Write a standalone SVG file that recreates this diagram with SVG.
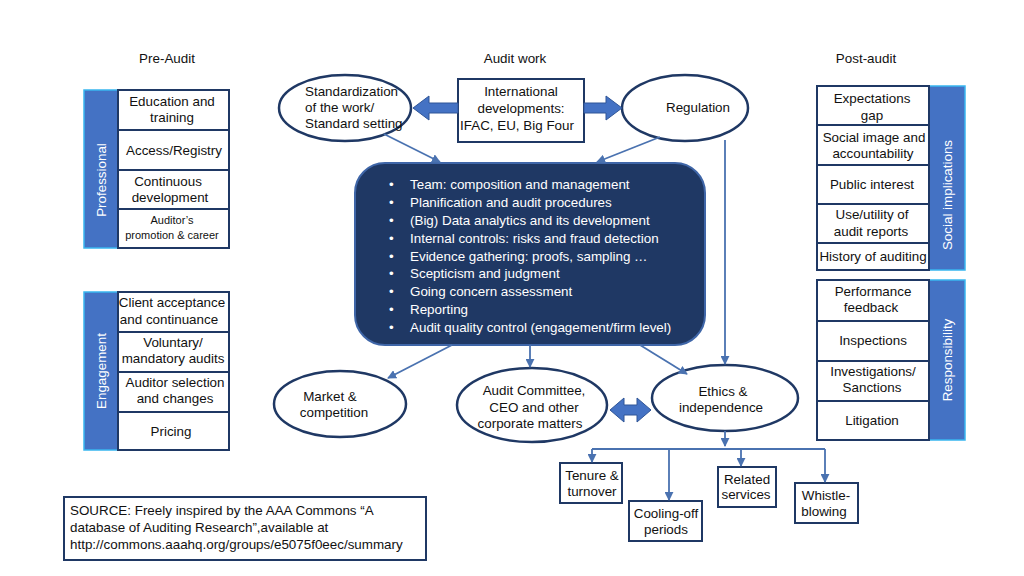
<svg xmlns="http://www.w3.org/2000/svg" width="1024" height="576" viewBox="0 0 1024 576">
<defs>
<style>
text{font-family:"Liberation Sans",Arial,sans-serif;font-size:13.4px;fill:#111;}
.c{text-anchor:middle;}
.bx{fill:#fff;stroke:#1F3864;stroke-width:2;}
.bar{fill:#4472C4;stroke:#38B6F0;stroke-width:1.5;}
.bt{fill:#fff;font-size:13.4px;text-anchor:middle;}
.ov{fill:#fff;stroke:#1F3864;stroke-width:2.5;}
.ln{fill:none;stroke:#4A72B0;stroke-width:1.8;}
.wt{fill:#fff;}
</style>
<marker id="ah" viewBox="0 0 10 10" refX="9" refY="5" markerWidth="5" markerHeight="5" orient="auto">
<path d="M0,0L10,5L0,10z" fill="#4A72B0"/>
</marker>
</defs>
<rect width="1024" height="576" fill="#fff"/>

<g id="headers">
<text class="c" x="167" y="63">Pre-Audit</text>
<text class="c" x="515" y="63">Audit work</text>
<text class="c" x="866" y="63">Post-audit</text>
</g>

<g id="professional">
<rect class="bar" x="84" y="90" width="34" height="158"/>
<text class="bt" transform="translate(106,180) rotate(-90)">Professional</text>
<rect class="bx" x="118" y="90" width="111" height="40"/>
<text class="c" x="172" y="106">Education and</text>
<text class="c" x="172" y="122">training</text>
<rect class="bx" x="118" y="130" width="111" height="40"/>
<text class="c" x="174" y="155">Access/Registry</text>
<rect class="bx" x="118" y="170" width="111" height="39"/>
<text class="c" x="168" y="186">Continuous</text>
<text class="c" x="170" y="202">development</text>
<rect class="bx" x="118" y="209" width="111" height="39"/>
<text class="c" x="172" y="224" style="font-size:11px">Auditor’s</text>
<text class="c" x="172" y="239" style="font-size:11px">promotion &amp; career</text>
</g>

<g id="engagement">
<rect class="bar" x="84" y="292" width="34" height="158"/>
<text class="bt" transform="translate(106,371) rotate(-90)">Engagement</text>
<rect class="bx" x="118" y="292" width="111" height="40"/>
<text class="c" x="172" y="307">Client acceptance</text>
<text class="c" x="169" y="324">and continuance</text>
<rect class="bx" x="118" y="332" width="111" height="40"/>
<text class="c" x="173" y="347">Voluntary/</text>
<text class="c" x="173" y="363">mandatory audits</text>
<rect class="bx" x="118" y="372" width="111" height="40"/>
<text class="c" x="175" y="387">Auditor selection</text>
<text class="c" x="175" y="403">and changes</text>
<rect class="bx" x="118" y="412" width="111" height="38"/>
<text class="c" x="171" y="436">Pricing</text>
</g>

<g id="social">
<rect class="bar" x="929" y="86" width="36" height="184"/>
<text class="bt" transform="translate(952,195) rotate(-90)">Social implications</text>
<rect class="bx" x="817" y="86" width="112" height="39"/>
<text class="c" x="872" y="103">Expectations</text>
<text class="c" x="872" y="120">gap</text>
<rect class="bx" x="817" y="125" width="112" height="40"/>
<text class="c" x="874" y="142">Social image and</text>
<text class="c" x="873" y="158">accountability</text>
<rect class="bx" x="817" y="165" width="112" height="39"/>
<text class="c" x="872" y="189">Public interest</text>
<rect class="bx" x="817" y="204" width="112" height="39"/>
<text class="c" x="872" y="219">Use/utility of</text>
<text class="c" x="871" y="236">audit reports</text>
<rect class="bx" x="817" y="243" width="112" height="27"/>
<text class="c" x="873" y="261">History of auditing</text>
</g>

<g id="responsibility">
<rect class="bar" x="929" y="280" width="36" height="160"/>
<text class="bt" transform="translate(952,360) rotate(-90)">Responsibility</text>
<rect class="bx" x="817" y="280" width="112" height="41"/>
<text class="c" x="873" y="296">Performance</text>
<text class="c" x="871" y="312">feedback</text>
<rect class="bx" x="817" y="321" width="112" height="40"/>
<text class="c" x="873" y="345">Inspections</text>
<rect class="bx" x="817" y="361" width="112" height="40"/>
<text class="c" x="873" y="376">Investigations/</text>
<text class="c" x="872" y="392">Sanctions</text>
<rect class="bx" x="817" y="401" width="112" height="39"/>
<text class="c" x="872" y="425">Litigation</text>
</g>

<g id="standardization">
<ellipse class="ov" cx="345" cy="108" rx="66" ry="33"/>
<text x="305" y="96">Standardization</text>
<text x="305" y="112">of the work/</text>
<text x="305" y="128">Standard setting</text>
</g>

<g id="international">
<rect class="bx" x="458" y="79" width="126" height="63"/>
<text class="c" x="521" y="96">International</text>
<text class="c" x="521" y="113">developments:</text>
<text class="c" x="517" y="130">IFAC, EU, Big Four</text>
</g>

<g id="regulation">
<ellipse class="ov" cx="685" cy="108" rx="63" ry="33"/>
<text class="c" x="698" y="112">Regulation</text>
</g>

<g id="audit-work">
<rect x="355" y="163" width="350" height="182" rx="30" ry="30" fill="#1F3864" stroke="#3F66A8" stroke-width="2"/>
<g class="wt">
<text class="wt" x="389" y="189">•</text><text class="wt" x="410" y="189">Team: composition and management</text>
<text class="wt" x="389" y="207">•</text><text class="wt" x="410" y="207">Planification and audit procedures</text>
<text class="wt" x="389" y="225">•</text><text class="wt" x="410" y="225">(Big) Data analytics and its development</text>
<text class="wt" x="389" y="243">•</text><text class="wt" x="410" y="243">Internal controls: risks and fraud detection</text>
<text class="wt" x="389" y="261">•</text><text class="wt" x="410" y="261">Evidence gathering: proofs, sampling …</text>
<text class="wt" x="389" y="278">•</text><text class="wt" x="410" y="278">Scepticism and judgment</text>
<text class="wt" x="389" y="296">•</text><text class="wt" x="410" y="296">Going concern assessment</text>
<text class="wt" x="389" y="314">•</text><text class="wt" x="410" y="314">Reporting</text>
<text class="wt" x="389" y="332">•</text><text class="wt" x="410" y="332">Audit quality control (engagement/firm level)</text>
</g>
</g>

<g id="market">
<ellipse class="ov" cx="340" cy="404" rx="66" ry="33"/>
<text class="c" x="330" y="401">Market &amp;</text>
<text class="c" x="334" y="417">competition</text>
</g>

<g id="audit-committee">
<ellipse class="ov" cx="532" cy="405" rx="75" ry="37"/>
<text class="c" x="534" y="395">Audit Committee,</text>
<text class="c" x="534" y="412">CEO and other</text>
<text class="c" x="530" y="428">corporate matters</text>
</g>

<g id="ethics">
<ellipse class="ov" cx="725" cy="398" rx="73" ry="33"/>
<text class="c" x="723" y="396">Ethics &amp;</text>
<text class="c" x="721" y="412">independence</text>
</g>

<g id="tenure">
<rect class="bx" x="560" y="463" width="62" height="40"/>
<text class="c" x="592" y="480">Tenure &amp;</text>
<text class="c" x="592" y="496">turnover</text>
</g>
<g id="cooling">
<rect class="bx" x="629" y="501" width="73" height="40"/>
<text class="c" x="666" y="518">Cooling-off</text>
<text class="c" x="666" y="534">periods</text>
</g>
<g id="related">
<rect class="bx" x="718" y="467" width="58" height="40"/>
<text class="c" x="747" y="484">Related</text>
<text class="c" x="746" y="499">services</text>
</g>
<g id="whistle">
<rect class="bx" x="795" y="483" width="63" height="40"/>
<text class="c" x="826" y="500">Whistle-</text>
<text class="c" x="824" y="516">blowing</text>
</g>

<g id="source">
<rect class="bx" x="64" y="497" width="362" height="63" stroke-width="1.5"/>
<text x="70" y="515">SOURCE: Freely inspired by the AAA Commons “A</text>
<text x="70" y="532">database of Auditing Research”,available at</text>
<text x="70" y="549">http://commons.aaahq.org/groups/e5075f0eec/summary</text>
</g>

<g id="connectors">
<path d="M458,103 H429 V96 L413,108 L429,120 V113 H458 Z" fill="#4472C4" stroke="#2F5597" stroke-width="1"/>
<path d="M584,103 H606 V96 L622,108 L606,120 V113 H584 Z" fill="#4472C4" stroke="#2F5597" stroke-width="1"/>
<path d="M624,398 L610,410 L624,422 V415 H637 V422 L651,410 L637,398 V405 H624 Z" fill="#4472C4" stroke="#2F5597" stroke-width="1"/>
<line class="ln" x1="384" y1="134" x2="440" y2="162" marker-end="url(#ah)"/>
<line class="ln" x1="660" y1="137" x2="597" y2="162" marker-end="url(#ah)"/>
<line class="ln" x1="725" y1="140" x2="725" y2="364" marker-end="url(#ah)"/>
<line class="ln" x1="452" y1="345" x2="388" y2="378" marker-end="url(#ah)"/>
<line class="ln" x1="530" y1="345" x2="530" y2="367" marker-end="url(#ah)"/>
<line class="ln" x1="640" y1="345" x2="687" y2="374" marker-end="url(#ah)"/>
<line class="ln" x1="725" y1="431" x2="725" y2="446" marker-end="url(#ah)"/>
<path class="ln" d="M592,449 H825"/>
<line class="ln" x1="592" y1="449" x2="592" y2="462" marker-end="url(#ah)"/>
<line class="ln" x1="669" y1="449" x2="669" y2="500" marker-end="url(#ah)"/>
<line class="ln" x1="741" y1="449" x2="741" y2="466" marker-end="url(#ah)"/>
<line class="ln" x1="825" y1="449" x2="825" y2="482" marker-end="url(#ah)"/>
</g>
</svg>
